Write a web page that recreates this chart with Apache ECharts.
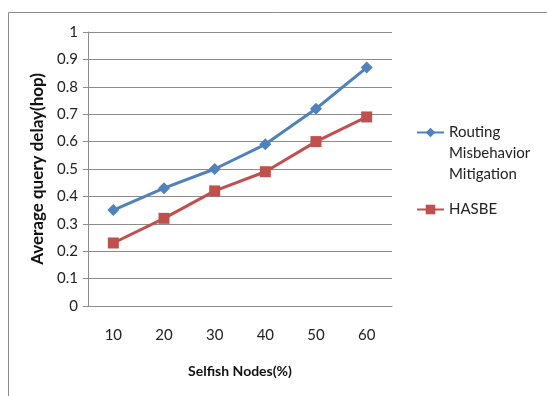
<!DOCTYPE html>
<html>
<head>
<meta charset="utf-8">
<script src="https://cdn.jsdelivr.net/npm/echarts@6/dist/echarts.min.js"></script>
<style>
  html, body { margin: 0; padding: 0; background: #fff; }
  #chart { width: 547px; height: 396px; }
</style>
</head>
<body>
<div id="chart"></div>
<script>
// Selfish node share on the x axis
const categories = ['10', '20', '30', '40', '50', '60'];
// Average query delay (hop) for each scheme
const routingMitigation = [0.35, 0.43, 0.50, 0.59, 0.72, 0.87];
const hasbe = [0.23, 0.32, 0.42, 0.49, 0.60, 0.69];
const seriesNames = ['Routing Misbehavior Mitigation', 'HASBE'];

const FONT = "Lato, 'Open Sans', 'Liberation Sans', sans-serif";

// Legend text: the long name wraps onto three lines; two blank lines in front
// keep the first line level with the legend icon, which sits at the middle.
function legendText(name) {
  if (name === seriesNames[0]) return ' \n \nRouting\nMisbehavior\nMitigation';
  return name;
}

const chart = echarts.init(document.getElementById('chart'), null, { renderer: 'canvas' });
chart.setOption({
  animation: false,
  backgroundColor: '#fff',
  graphic: [{
    type: 'rect',
    shape: { x: 8.5, y: 12.5, width: 700, height: 600 },
    style: { fill: 'none', stroke: '#8c8c8c', lineWidth: 1 },
    silent: true
  }],
  grid: { left: 88, right: 155, top: 32, bottom: 90, containLabel: false },
  legend: {
    orient: 'vertical',
    left: 411,
    top: 75,
    itemWidth: 27,
    itemHeight: 12,
    itemGap: 14,
    data: seriesNames,
    formatter: legendText,
    textStyle: { fontFamily: FONT, fontSize: 15, color: '#222', lineHeight: 21 }
  },
  xAxis: {
    type: 'category',
    data: categories,
    boundaryGap: true,
    name: 'Selfish Nodes(%)',
    nameLocation: 'middle',
    nameGap: 58,
    nameTextStyle: { fontFamily: FONT, fontSize: 14, fontWeight: 'bold', color: '#111' },
    axisLine: { lineStyle: { color: '#8c8c8c', width: 1 } },
    axisTick: { show: false },
    axisLabel: { margin: 22, fontFamily: FONT, fontSize: 15, color: '#222' }
  },
  yAxis: {
    type: 'value',
    min: 0,
    max: 1,
    interval: 0.1,
    name: 'Average query delay(hop)',
    nameLocation: 'middle',
    nameGap: 42,
    nameTextStyle: { fontFamily: FONT, fontSize: 17, fontWeight: 'bold', color: '#111' },
    axisLine: { show: true, lineStyle: { color: '#8c8c8c', width: 1 } },
    axisTick: { show: true, length: 5, lineStyle: { color: '#8c8c8c' } },
    axisLabel: { margin: 10, fontFamily: FONT, fontSize: 15, color: '#222',
      formatter: v => String(Math.round(v * 10) / 10) },
    splitLine: { lineStyle: { color: '#8c8c8c', width: 1 } }
  },
  series: [
    {
      name: seriesNames[0],
      type: 'line',
      data: routingMitigation,
      color: '#4F81BD',
      symbol: 'diamond',
      symbolSize: 12,
      lineStyle: { width: 3, color: '#4F81BD' },
      itemStyle: { color: '#4F81BD' }
    },
    {
      name: seriesNames[1],
      type: 'line',
      data: hasbe,
      color: '#C0504D',
      symbol: 'rect',
      symbolSize: 11,
      lineStyle: { width: 3, color: '#C0504D' },
      itemStyle: { color: '#C0504D' }
    }
  ]
});
</script>
</body>
</html>
